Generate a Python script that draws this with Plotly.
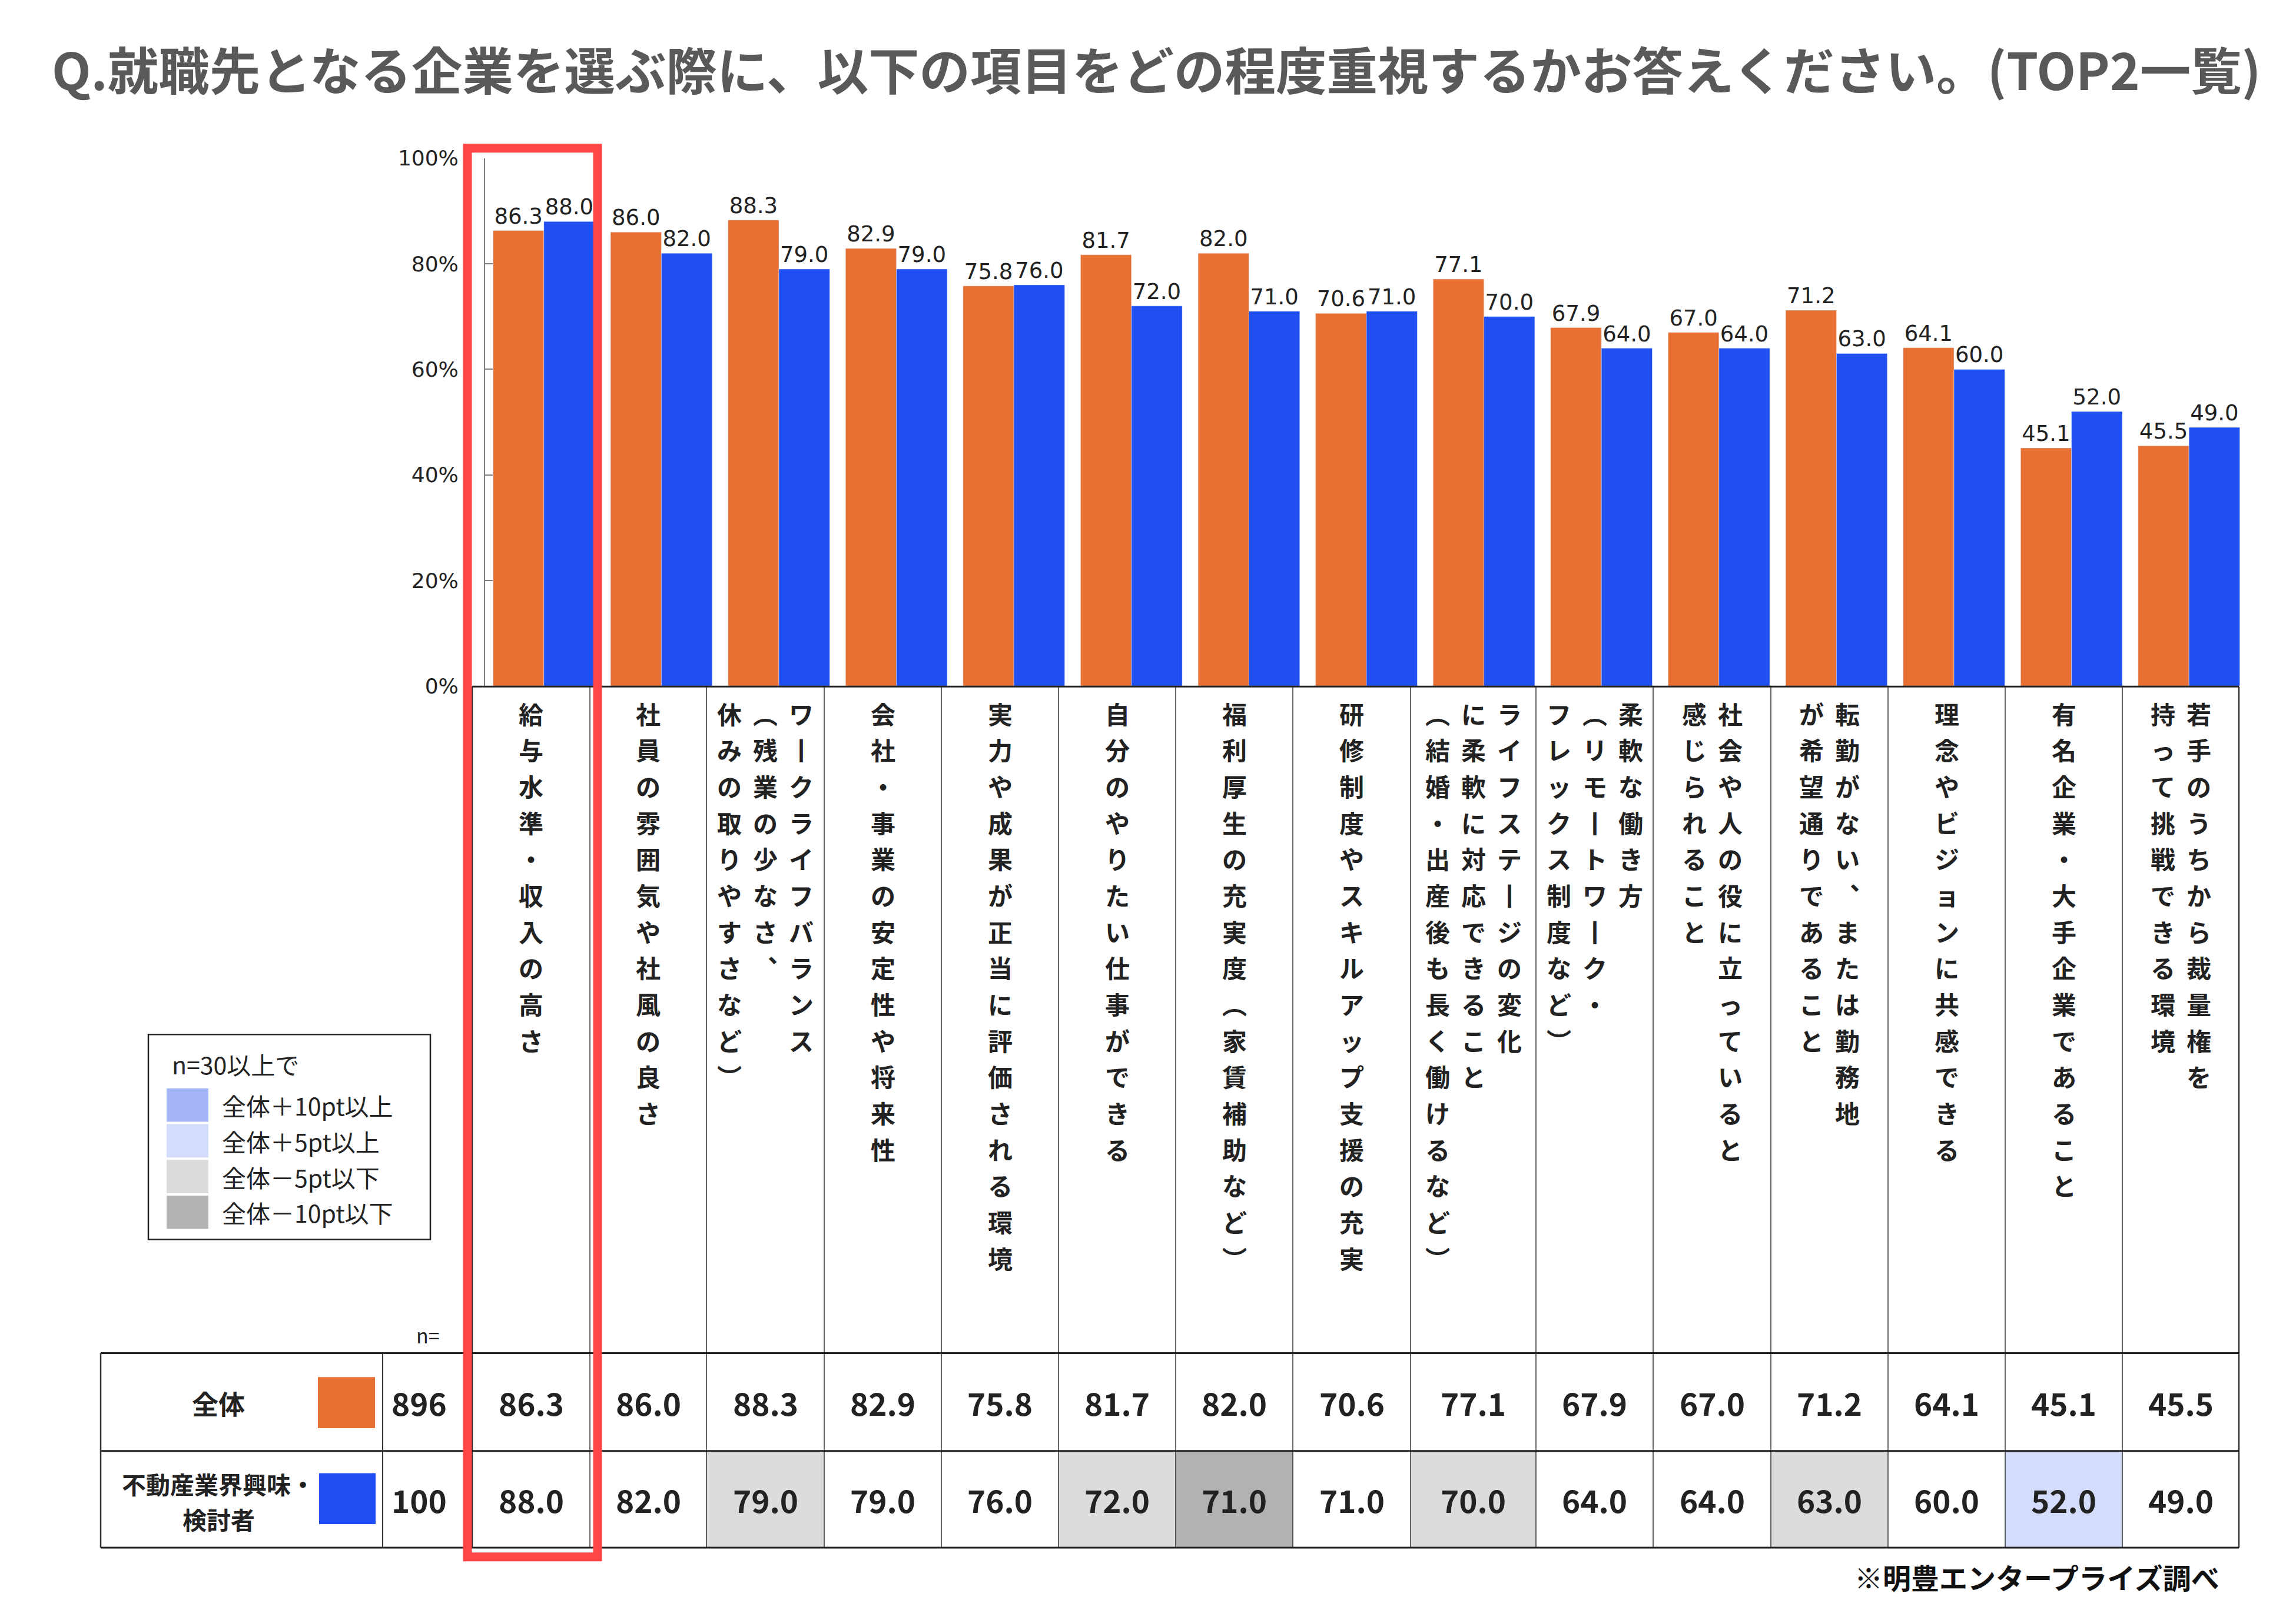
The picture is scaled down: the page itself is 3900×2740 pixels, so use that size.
import plotly.graph_objects as go

W, H = 3900, 2740

# タイトル・出典
title = 'Q.就職先となる企業を選ぶ際に、以下の項目をどの程度重視するかお答えください。(TOP2一覧)'
source = '※明豊エンタープライズ調べ'

# 項目（縦書きの列ごと、右の列から）
label_lines = [
    ['給与水準・収入の高さ'],
    ['社員の雰囲気や社風の良さ'],
    ['ワークライフバランス', '（残業の少なさ、', '休みの取りやすさなど）'],
    ['会社・事業の安定性や将来性'],
    ['実力や成果が正当に評価される環境'],
    ['自分のやりたい仕事ができる'],
    ['福利厚生の充実度（家賃補助など）'],
    ['研修制度やスキルアップ支援の充実'],
    ['ライフステージの変化', 'に柔軟に対応できること', '（結婚・出産後も長く働けるなど）'],
    ['柔軟な働き方', '（リモートワーク・', 'フレックス制度など）'],
    ['社会や人の役に立っていると', '感じられること'],
    ['転勤がない、または勤務地', 'が希望通りであること'],
    ['理念やビジョンに共感できる'],
    ['有名企業・大手企業であること'],
    ['若手のうちから裁量権を', '持って挑戦できる環境'],
]
categories = [''.join(lines) for lines in label_lines]

# 系列
series_names = [['全体'], ['不動産業界興味・', '検討者']]
series_n = [896, 100]
overall = [86.3, 86.0, 88.3, 82.9, 75.8, 81.7, 82.0, 70.6, 77.1, 67.9, 67.0, 71.2, 64.1, 45.1, 45.5]
interested = [88.0, 82.0, 79.0, 79.0, 76.0, 72.0, 71.0, 71.0, 70.0, 64.0, 64.0, 63.0, 60.0, 52.0, 49.0]

# 凡例（差分の色分け）
legend_title = 'n=30以上で'
legend_labels = ['全体＋10pt以上', '全体＋5pt以上', '全体－5pt以下', '全体－10pt以下']
legend_colors = ['#A4B6F8', '#D3DCFB', '#DCDCDC', '#B2B2B2']

y_ticks = [0, 20, 40, 60, 80, 100]
y_ticktext = ['0%', '20%', '40%', '60%', '80%', '100%']

ORANGE = '#E87033'
BLUE = '#1F4EF1'
JP = 'Noto Sans CJK JP'
TXT = '#222222'


# 画面上の位置（px）を paper 座標へ
def px(x):
    return (x - 8) / W


def py(y):
    return 1 - ((y - 27) / 0.99) / H


fig = go.Figure()
fig.add_trace(go.Bar(x=categories, y=overall, name='全体', marker_color=ORANGE,
                     text=[f'{v:.1f}' for v in overall], textposition='outside',
                     textfont=dict(family='DejaVu Sans', size=37, color=TXT),
                     cliponaxis=False, constraintext='none'))
fig.add_trace(go.Bar(x=categories, y=interested, name='不動産業界興味・検討者', marker_color=BLUE,
                     text=[f'{v:.1f}' for v in interested], textposition='outside',
                     textfont=dict(family='DejaVu Sans', size=37, color=TXT),
                     cliponaxis=False, constraintext='none'))

shapes = []
annotations = []


def line(x0, y0, x1, y1, w=1.5, color='#333333'):
    shapes.append(dict(type='line', xref='paper', yref='paper',
                       x0=px(x0), y0=py(y0), x1=px(x1), y1=py(y1),
                       line=dict(color=color, width=w)))


def rect(x0, y0, x1, y1, fill, layer='above'):
    shapes.append(dict(type='rect', xref='paper', yref='paper',
                       x0=px(x0), y0=py(y0), x1=px(x1), y1=py(y1),
                       fillcolor=fill, line=dict(width=0), layer=layer))


def text(x, y, s, size, bold=False, xanchor='center', yanchor='middle', color=TXT, family=JP):
    annotations.append(dict(xref='paper', yref='paper', x=px(x), y=py(y), text=s,
                            showarrow=False, xanchor=xanchor, yanchor=yanchor,
                            font=dict(family=family, size=size, color=color,
                                      weight='bold' if bold else 'normal')))


# タイトル
text(86, 115, title, 86.5, bold=True, xanchor='left', color='#595959')

# 表の列位置
col_edges = [802, 1002, 1200, 1400, 1599, 1798, 1997, 2196, 2396, 2609, 2808, 3008, 3207, 3406, 3605, 3803]
top_lab, top_tab, mid_tab, bot_tab = 1171, 2309, 2476, 2641

# 縦書きの項目名（1文字ずつ）
VERT = {'ー': '丨', '（': '︵', '）': '︶', '、': '︑'}
for i, lines in enumerate(label_lines):
    cx = (col_edges[i] + col_edges[i + 1]) / 2
    n = len(lines)
    for j, s in enumerate(lines):
        x = cx + (n - 1) / 2 * 61 - j * 61
        for k, c in enumerate(s):
            text(x, 1216 + k * 62, VERT.get(c, c), 42, bold=True)

# 差分に応じた網掛け
for i in range(len(categories)):
    d = interested[i] - overall[i]
    fill = None
    if d >= 10:
        fill = legend_colors[0]
    elif d >= 5:
        fill = legend_colors[1]
    elif d <= -10:
        fill = legend_colors[3]
    elif d <= -5:
        fill = legend_colors[2]
    if fill:
        rect(col_edges[i], mid_tab, col_edges[i + 1], bot_tab, fill, layer='below')

# 表の値
for i in range(len(categories)):
    cx = (col_edges[i] + col_edges[i + 1]) / 2
    text(cx, 2393, f'{overall[i]:.1f}', 53, bold=True)
    text(cx, 2559, f'{interested[i]:.1f}', 53, bold=True)

# 系列名・色見本・n
text(727, 2278, 'n=', 34)
text(371, 2394, series_names[0][0], 45, bold=True)
text(371, 2532, series_names[1][0], 41, bold=True)
text(371, 2592, series_names[1][1], 41, bold=True)
rect(540, 2350, 637, 2437, ORANGE)
rect(542, 2514, 638, 2601, BLUE)
text(712, 2393, str(series_n[0]), 53, bold=True)
text(712, 2559, str(series_n[1]), 53, bold=True)

# 罫線
for x in col_edges:
    line(x, top_lab, x, bot_tab, 2.5 if x in (col_edges[0], col_edges[-1]) else 1.5)
line(col_edges[0], top_lab, col_edges[-1], top_lab, 3, '#222222')
for y in (top_tab, mid_tab, bot_tab):
    line(171, y, col_edges[-1], y, 3, '#222222')
line(171, top_tab, 171, bot_tab, 2.5)
line(650, top_tab, 650, bot_tab, 2)

# 凡例ボックス
shapes.append(dict(type='rect', xref='paper', yref='paper', x0=px(252), y0=py(1765),
                   x1=px(731), y1=py(2115), line=dict(color='#222222', width=2.5)))
text(290, 1815, legend_title, 41, xanchor='left')
for k, (lab, col) in enumerate(zip(legend_labels, legend_colors)):
    y0 = 1857 + k * 61
    rect(283, y0, 354, y0 + 57, col)
    text(375, y0 + 28.5, lab, 41, xanchor='left')

# 赤枠
shapes.append(dict(type='rect', xref='paper', yref='paper', x0=px(794), y0=py(252),
                   x1=px(1015), y1=py(2657), line=dict(color='#FF4545', width=15)))

# 出典
text(3772, 2690, source, 48, bold=True, xanchor='right', color='#111111')

fig.update_layout(
    width=W, height=H,
    margin=dict(l=0, r=0, t=0, b=0),
    paper_bgcolor='white', plot_bgcolor='white',
    barmode='group', bargap=0.135, bargroupgap=0,
    showlegend=False,
    shapes=shapes, annotations=annotations,
    xaxis=dict(domain=[px(824), px(3818)], showticklabels=False, showgrid=False,
               zeroline=False, showline=False, ticks=''),
    yaxis=dict(domain=[py(1170), py(269)], range=[0, 100], tickvals=y_ticks,
               ticktext=y_ticktext, showgrid=False, zeroline=False,
               showline=True, linecolor='#7F7F7F', linewidth=2,
               ticks='inside', ticklen=13, tickwidth=2, tickcolor='#7F7F7F',
               ticklabelstandoff=36,
               tickfont=dict(family='DejaVu Sans', size=36, color=TXT)),
)

fig.write_html('out.html')
